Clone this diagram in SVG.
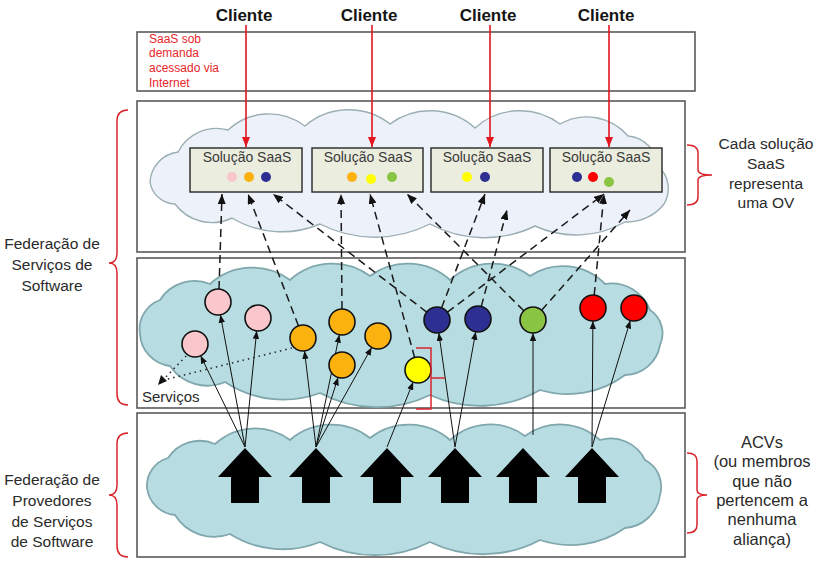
<svg xmlns="http://www.w3.org/2000/svg" width="818" height="565" viewBox="0 0 818 565">
  <style>
    text { font-family: "Liberation Sans", Arial, sans-serif; }
    .layer { fill: #ffffff; stroke: #5a5a5a; stroke-width: 1.6; }
    .cloud-top { fill: #edf1fa; stroke: #9aaeb3; stroke-width: 1.4; }
    .cloud-teal { fill: #b7dde2; stroke: #7fa7ac; stroke-width: 1.8; }
    .sol { fill: #ebeddf; stroke: #333333; stroke-width: 1.5; }
    .sol-label { font-size: 14px; fill: #3a3a3a; text-anchor: middle; }
    .client { font-size: 17px; font-weight: bold; fill: #151515; text-anchor: middle; }
    .side { font-size: 15.5px; fill: #2a2a2a; text-anchor: middle; }
    .side-lg { font-size: 16.5px; fill: #2a2a2a; text-anchor: middle; }
    .note { font-size: 12px; fill: #e8262b; }
    .brace { fill: none; stroke: #d8262c; stroke-width: 1.5; }
    .red-arrow { stroke: #e3151f; stroke-width: 1.6; fill: none; marker-end: url(#ahRed); }
    .dash { stroke: #1a1a1a; stroke-width: 1.5; stroke-dasharray: 8 5; fill: none; marker-end: url(#ahDash); }
    .solid { stroke: #111111; stroke-width: 1; fill: none; marker-end: url(#ahSolid); }
    .dot { stroke: #222222; stroke-width: 1.5; stroke-dasharray: 1.5 4; fill: none; }
    .svc { stroke: #111111; stroke-width: 1.6; }
    .pink { fill: #f9c7cc; }
    .orange { fill: #fbb20e; }
    .yellow { fill: #ffff00; }
    .navy { fill: #2e2f92; }
    .green { fill: #89c442; }
    .red { fill: #ff0000; }
    .house { fill: #000000; }
  </style>
  <defs>
    <marker id="ahRed" viewBox="0 0 10 8" refX="10" refY="4" markerWidth="10" markerHeight="9" orient="auto" markerUnits="userSpaceOnUse">
      <path d="M0,0 L10,4 L0,8 Z" fill="#e3151f"/>
    </marker>
    <marker id="ahDash" viewBox="0 0 10 8" refX="10" refY="4" markerWidth="10" markerHeight="8" orient="auto" markerUnits="userSpaceOnUse">
      <path d="M0,0 L10,4 L0,8 Z" fill="#111111"/>
    </marker>
    <marker id="ahSolid" viewBox="0 0 10 8" refX="10" refY="4" markerWidth="8" markerHeight="7" orient="auto" markerUnits="userSpaceOnUse">
      <path d="M0,0 L10,4 L0,8 Z" fill="#111111"/>
    </marker>
    <path id="houseShape" d="M0,0 L27,29 L14,29 L14,55 L-14,55 L-14,29 L-27,29 Z"/>
  </defs>

  <rect width="818" height="565" fill="#ffffff"/>

  <!-- layer frames -->
  <g id="frames">
    <rect class="layer" x="137" y="32" width="558" height="59"/>
    <rect class="layer" x="137" y="101" width="548" height="151"/>
    <rect class="layer" x="137" y="258" width="548" height="150"/>
    <rect class="layer" x="137" y="413" width="548" height="144"/>
  </g>

  <!-- clouds -->
  <g id="clouds">
    <path class="cloud-top" d="M150,182 A32,32 0 0 1 178,152 A43,43 0 0 1 228,130 A60,60 0 0 1 305,126 A67,67 0 0 1 390,124 A67,67 0 0 1 475,128 A67,67 0 0 1 560,124 A54,54 0 0 1 628,136 A33,33 0 0 1 658,166 A30,30 0 0 1 664,204 A47,47 0 0 1 625,222 A99,99 0 0 1 535,226 A115,115 0 0 1 430,224 A121,121 0 0 1 320,224 A97,97 0 0 1 232,218 A46,46 0 0 1 175,204 A26,26 0 0 1 150,182 Z"/>
    <path class="cloud-teal" d="M140,334 A31,31 0 0 1 160,300 A41,41 0 0 1 210,284 A63,63 0 0 1 290,280 A63,63 0 0 1 370,276 A63,63 0 0 1 450,280 A63,63 0 0 1 530,276 A59,59 0 0 1 605,284 A41,41 0 0 1 650,310 A28,28 0 0 1 660,345 A36,36 0 0 1 625,375 A95,95 0 0 1 540,390 A121,121 0 0 1 430,395 A121,121 0 0 1 320,393 A105,105 0 0 1 225,382 A45,45 0 0 1 170,366 A34,34 0 0 1 140,334 Z"/>
    <path class="cloud-teal" d="M147,488 A29,29 0 0 1 168,458 A38,38 0 0 1 215,444 A59,59 0 0 1 290,440 A63,63 0 0 1 370,438 A63,63 0 0 1 450,440 A59,59 0 0 1 525,436 A59,59 0 0 1 600,440 A38,38 0 0 1 645,460 A30,30 0 0 1 660,495 A38,38 0 0 1 625,528 A95,95 0 0 1 540,540 A121,121 0 0 1 430,542 A121,121 0 0 1 320,542 A99,99 0 0 1 230,534 A46,46 0 0 1 175,515 A31,31 0 0 1 147,488 Z"/>
  </g>

  <!-- side labels and braces -->
  <g id="note-saas">
    <text class="note" x="149"><tspan x="149" y="42.5">SaaS sob</tspan><tspan x="149" y="57.3">demanda</tspan><tspan x="149" y="72.1">acessado via</tspan><tspan x="149" y="86.9">Internet</tspan></text>
  </g>
  <g id="label-fss">
    <path class="brace" d="M128,110 Q117,110 117,121 L117,253 Q117,263 109,263 Q117,263 117,273 L117,394 Q117,405 128,405"/>
    <text class="side"><tspan x="52" y="249">Federação de</tspan><tspan x="52" y="270">Serviços de</tspan><tspan x="52" y="291">Software</tspan></text>
  </g>
  <g id="label-fpss">
    <path class="brace" d="M128,433 Q117,433 117,444 L117,485 Q117,495 109,495 Q117,495 117,505 L117,546 Q117,557 128,557"/>
    <text class="side"><tspan x="52" y="485">Federação de</tspan><tspan x="52" y="506">Provedores</tspan><tspan x="52" y="527">de Serviços</tspan><tspan x="52" y="547">de Software</tspan></text>
  </g>
  <g id="label-ov">
    <path class="brace" d="M687,145 Q698,145 698,153 L698,170 Q698,175 712,175 Q698,175 698,180 L698,197 Q698,205 687,205"/>
    <text class="side"><tspan x="766" y="148.5">Cada solução</tspan><tspan x="766" y="168.5">SaaS</tspan><tspan x="766" y="188.5">representa</tspan><tspan x="766" y="207.5">uma OV</tspan></text>
  </g>
  <g id="label-acv">
    <path class="brace" d="M687,453 Q697,453 697,461 L697,490 Q697,495 707,495 Q697,495 697,500 L697,525 Q697,533 687,533"/>
    <text class="side-lg"><tspan x="762" y="448">ACVs</tspan><tspan x="762" y="467.3">(ou membros</tspan><tspan x="762" y="486.6">que não</tspan><tspan x="762" y="505.9">pertencem a</tspan><tspan x="762" y="525.2">nenhuma</tspan><tspan x="762" y="544.5">aliança)</tspan></text>
  </g>

  <!-- clients -->
  <g id="client-1"><text class="client" x="244" y="21">Cliente</text></g>
  <g id="client-2"><text class="client" x="369" y="21">Cliente</text></g>
  <g id="client-3"><text class="client" x="488" y="21">Cliente</text></g>
  <g id="client-4"><text class="client" x="606" y="21">Cliente</text></g>

  <!-- SaaS solutions -->
  <g id="solution-1">
    <rect class="sol" x="190" y="148" width="112" height="44"/>
    <text class="sol-label" x="247" y="162">Solução SaaS</text>
    <circle class="pink" cx="232" cy="177" r="5"/>
    <circle class="orange" cx="249" cy="177" r="5"/>
    <circle class="navy" cx="266" cy="177" r="5"/>
  </g>
  <g id="solution-2">
    <rect class="sol" x="312" y="148" width="111" height="44"/>
    <text class="sol-label" x="368" y="162">Solução SaaS</text>
    <circle class="orange" cx="352" cy="177" r="5"/>
    <circle class="yellow" cx="371" cy="179" r="5"/>
    <circle class="green" cx="392" cy="177" r="5"/>
  </g>
  <g id="solution-3">
    <rect class="sol" x="431" y="148" width="112" height="44"/>
    <text class="sol-label" x="487" y="162">Solução SaaS</text>
    <circle class="yellow" cx="467" cy="177" r="5"/>
    <circle class="navy" cx="485" cy="177" r="5"/>
  </g>
  <g id="solution-4">
    <rect class="sol" x="550" y="148" width="112" height="44"/>
    <text class="sol-label" x="606" y="162">Solução SaaS</text>
    <circle class="navy" cx="577" cy="177" r="5"/>
    <circle class="red" cx="593" cy="177" r="5"/>
    <circle class="green" cx="609" cy="182" r="5"/>
  </g>

  <!-- connectors -->
  <g id="connectors">
    <!-- clients to solutions -->
    <line class="red-arrow" x1="246" y1="25" x2="246" y2="147"/>
    <line class="red-arrow" x1="372" y1="25" x2="372" y2="147"/>
    <line class="red-arrow" x1="490" y1="25" x2="490" y2="147"/>
    <line class="red-arrow" x1="609" y1="25" x2="609" y2="147"/>

    <!-- services composing solutions -->
    <line class="dash" x1="219" y1="289" x2="222" y2="194"/>
    <line class="dash" x1="298.4" y1="325.8" x2="248" y2="194"/>
    <line class="dash" x1="426.7" y1="312.1" x2="273" y2="194"/>
    <line class="dash" x1="342" y1="309" x2="341" y2="194"/>
    <line class="dash" x1="414.6" y1="357.5" x2="370" y2="194"/>
    <line class="dash" x1="523.8" y1="310.8" x2="407" y2="194"/>
    <line class="dash" x1="441.6" y1="307.8" x2="485" y2="194"/>
    <line class="dash" x1="481.3" y1="306.4" x2="507" y2="210"/>
    <line class="dash" x1="447.4" y1="312.2" x2="604" y2="194"/>
    <line class="dash" x1="594.2" y1="295" x2="604" y2="194"/>
    <line class="dash" x1="541.6" y1="310.3" x2="630" y2="210"/>

    <!-- providers offering services -->
    <line class="solid" x1="245" y1="447" x2="220.4" y2="314.8"/>
    <line class="solid" x1="245" y1="447" x2="200.6" y2="355.7"/>
    <line class="solid" x1="245" y1="447" x2="256.7" y2="330.9"/>
    <line class="solid" x1="316" y1="447" x2="304.5" y2="350.9"/>
    <line class="solid" x1="316" y1="447" x2="339.4" y2="334.7"/>
    <line class="solid" x1="316" y1="447" x2="338.1" y2="377.4"/>
    <line class="solid" x1="316" y1="447" x2="371.7" y2="347.4"/>
    <line class="solid" x1="387" y1="447" x2="413.2" y2="381.9"/>
    <line class="solid" x1="455" y1="447" x2="438.8" y2="332.9"/>
    <line class="solid" x1="455" y1="447" x2="475.7" y2="331.8"/>
    <line class="solid" x1="533" y1="435" x2="533" y2="333"/>
    <line class="solid" x1="592" y1="447" x2="592.9" y2="321"/>
    <line class="solid" x1="592" y1="447" x2="630.3" y2="320.5"/>

    <!-- "Serviços" pointer -->
    <line class="dot" x1="190" y1="352" x2="162" y2="381"/>
    <line class="dot" x1="292" y1="348" x2="164" y2="380"/>
    <path d="M158,385 L161,375 L167,381 Z" fill="#111111"/>
  </g>

  <!-- services -->
  <g id="svc-pink-1"><circle class="svc pink" cx="218" cy="302" r="13"/></g>
  <g id="svc-pink-2"><circle class="svc pink" cx="258" cy="318" r="13"/></g>
  <g id="svc-pink-3"><circle class="svc pink" cx="195" cy="344" r="13"/></g>
  <g id="svc-orange-1"><circle class="svc orange" cx="303" cy="338" r="13"/></g>
  <g id="svc-orange-2"><circle class="svc orange" cx="342" cy="322" r="13"/></g>
  <g id="svc-orange-3"><circle class="svc orange" cx="378" cy="336" r="13"/></g>
  <g id="svc-orange-4"><circle class="svc orange" cx="342" cy="365" r="13"/></g>
  <g id="svc-yellow">
    <circle class="svc yellow" cx="418" cy="370" r="13"/>
    <path class="brace" d="M416,348 L431,348 L431,409 L416,409 M431,378 L445,378"/>
  </g>
  <g id="svc-navy-1"><circle class="svc navy" cx="437" cy="320" r="13"/></g>
  <g id="svc-navy-2"><circle class="svc navy" cx="478" cy="319" r="13"/></g>
  <g id="svc-green"><circle class="svc green" cx="533" cy="320" r="13"/></g>
  <g id="svc-red-1"><circle class="svc red" cx="593" cy="308" r="13"/></g>
  <g id="svc-red-2"><circle class="svc red" cx="634" cy="308" r="13"/></g>
  <g id="svc-label"><text x="142" y="402" font-size="15" fill="#2a2a2a">Serviços</text></g>

  <!-- providers -->
  <g id="provider-1"><use class="house" href="#houseShape" x="245" y="448"/></g>
  <g id="provider-2"><use class="house" href="#houseShape" x="316" y="448"/></g>
  <g id="provider-3"><use class="house" href="#houseShape" x="387" y="448"/></g>
  <g id="provider-4"><use class="house" href="#houseShape" x="455" y="448"/></g>
  <g id="provider-5"><use class="house" href="#houseShape" x="523" y="448"/></g>
  <g id="provider-6"><use class="house" href="#houseShape" x="592" y="448"/></g>
</svg>
